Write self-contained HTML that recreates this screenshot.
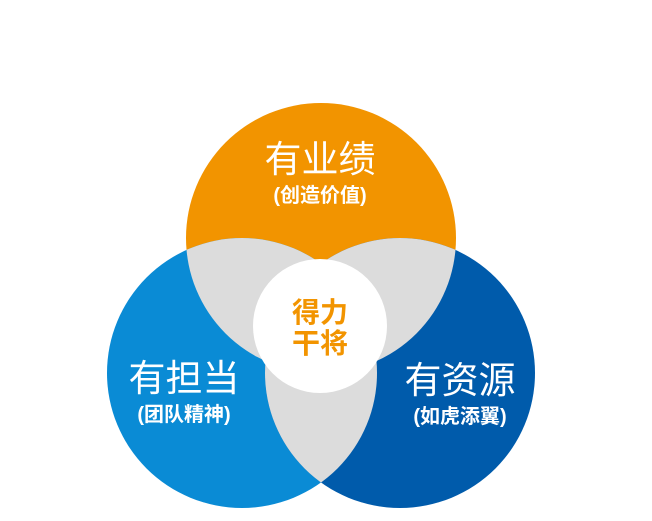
<!DOCTYPE html>
<html><head><meta charset="utf-8"><style>
body{margin:0;background:#fff;}
svg text{font-family:"Liberation Sans","Noto Sans CJK SC",sans-serif;}
</style></head><body>
<svg width="652" height="516" viewBox="0 0 652 516" xmlns="http://www.w3.org/2000/svg">
<defs>
<clipPath id="cO"><circle cx="321" cy="238" r="135"/></clipPath>
<clipPath id="cL"><circle cx="242" cy="373" r="135"/></clipPath>
</defs>
<circle cx="321" cy="238" r="135" fill="#f29400"/>
<circle cx="242" cy="373" r="135" fill="#0a8bd5"/>
<circle cx="400" cy="373" r="135" fill="#005bab"/>
<g fill="#dcdcdc">
<circle cx="242" cy="373" r="135" clip-path="url(#cO)"/>
<circle cx="400" cy="373" r="135" clip-path="url(#cO)"/>
<circle cx="400" cy="373" r="135" clip-path="url(#cL)"/>
</g>
<circle cx="320" cy="326" r="67" fill="#fff"/>
<g fill="#fff" text-anchor="middle">
<text x="320" y="172" font-size="37">有业绩</text>
<text x="320" y="202" font-size="20" font-weight="bold">(创造价值)</text>
<text x="184" y="391" font-size="37">有担当</text>
<text x="184" y="421" font-size="20" font-weight="bold">(团队精神)</text>
<text x="460" y="393" font-size="37">有资源</text>
<text x="460" y="423" font-size="20" font-weight="bold">(如虎添翼)</text>
</g>
<g fill="#f29400" text-anchor="middle" font-weight="bold" font-size="28">
<text x="320" y="322">得力</text>
<text x="320" y="353">干将</text>
</g>
</svg>
</body></html>
